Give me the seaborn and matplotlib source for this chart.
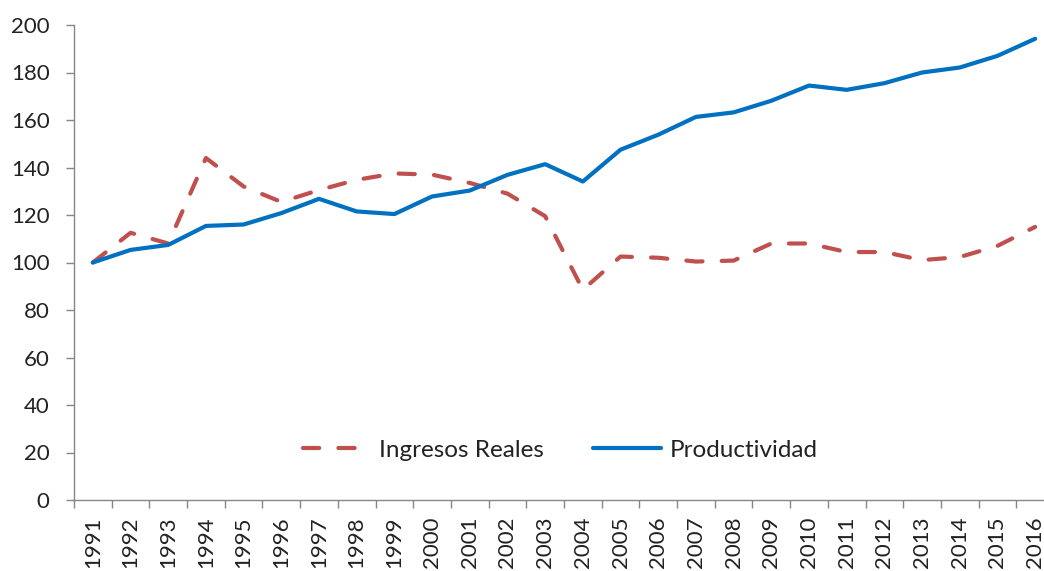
import matplotlib
matplotlib.use("Agg")
import matplotlib.pyplot as plt
import seaborn as sns
import pandas as pd
import numpy as np
from matplotlib.ticker import FixedLocator

years = list(range(1991, 2017))
ingresos_reales = [100, 112.5, 108, 144, 132, 125.5, 130.5, 134.8, 137.5, 137, 133.5,
                   129, 119.5, 88.5, 102.5, 102, 100.4, 100.8, 108, 108, 104.4,
                   104.4, 101, 102.3, 107, 115]
productividad = [100, 105.3, 107.4, 115.4, 116, 120.8, 126.8, 121.5, 120.4, 127.8, 130.3,
                 136.9, 141.4, 134.1, 147.5, 153.8, 161.3, 163.2, 168.1, 174.5, 172.7,
                 175.5, 180, 182.1, 187, 194.2]

sns.set_theme(style="white")
plt.rcParams['font.family'] = ['Lato', 'DejaVu Sans']

df = pd.DataFrame({"idx": np.arange(len(years)), "Ingresos Reales": ingresos_reales,
                   "Productividad": productividad})

fig = plt.figure(figsize=(10.44, 5.71), dpi=100)
ax = fig.add_axes([74/1044, 1-500/571, 980/1044, 475/571])

DASH = (3.9, 4.6)
sns.lineplot(data=df, x="idx", y="Ingresos Reales", ax=ax, color="#C0504D",
             linewidth=3, label="Ingresos Reales")
sns.lineplot(data=df, x="idx", y="Productividad", ax=ax, color="#0070C0",
             linewidth=3, label="Productividad")
red = ax.lines[0]
red.set_dashes(DASH)
red.set_dash_capstyle("round")
red.set_solid_joinstyle("round")
ax.lines[1].set_solid_joinstyle("round")

ax.set_xlim(-0.5, len(years)-0.5)
ax.set_ylim(0, 200)
ax.set_yticks(range(0, 201, 20))
ax.set_xticks(np.arange(len(years)))
ax.set_xticklabels([str(y) for y in years], rotation=90)
ax.xaxis.set_minor_locator(FixedLocator(np.arange(-0.5, len(years), 1.0)))
ax.tick_params(axis="x", which="major", length=0, pad=12, labelsize=16, colors="#222222")
ax.tick_params(axis="x", which="minor", length=5.5, width=1, color="#868686", direction="out", bottom=True)
ax.tick_params(axis="y", which="major", length=5.5, width=1, color="#868686", direction="out",
               left=True, labelsize=16, labelcolor="#222222", pad=12)
ax.set_xlabel("")
ax.set_ylabel("")
for s in ["top", "right"]:
    ax.spines[s].set_visible(False)
for s in ["left", "bottom"]:
    ax.spines[s].set_color("#868686")
    ax.spines[s].set_linewidth(1)

leg = ax.legend(loc="center", bbox_to_anchor=(0.496, 0.105), ncol=2, frameon=False,
                fontsize=17.5, handlelength=2.8, columnspacing=2.0, handletextpad=0.35,
                labelcolor="#222222")
for h in leg.legend_handles:
    h.set_linewidth(3)
leg.legend_handles[0].set_dashes(DASH)
leg.legend_handles[0].set_dash_capstyle("round")

fig.savefig("out.png", dpi=100)
